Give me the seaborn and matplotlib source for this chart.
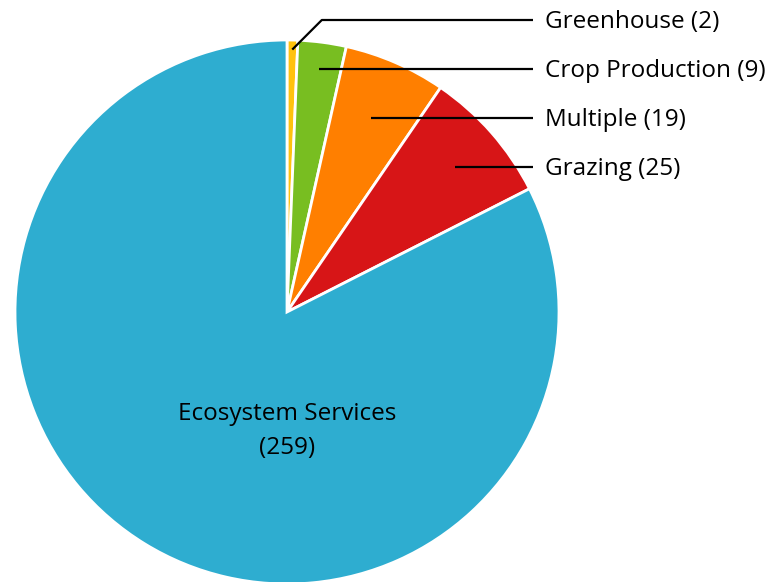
import matplotlib
matplotlib.use("Agg")
import matplotlib.pyplot as plt
import numpy as np
import seaborn as sns

# Land-use categories and counts
categories = ["Greenhouse", "Crop Production", "Multiple", "Grazing", "Ecosystem Services"]
counts = [2, 9, 19, 25, 259]
colors = ["#FFC20E", "#78BE21", "#FF7F00", "#D71517", "#2EADD0"]

sns.set_theme(style="white")
plt.rcParams["font.family"] = ["Open Sans", "DejaVu Sans"]

W, H = 769, 582
fig = plt.figure(figsize=(W / 100, H / 100), dpi=100)
ax = fig.add_axes([0, 0, 1, 1])

cx, cy, R = 287, 270, 272
wedges, _ = ax.pie(
    counts, colors=sns.color_palette(colors), startangle=90, counterclock=False,
    center=(cx, cy), radius=R, frame=True,
    wedgeprops=dict(edgecolor="white", linewidth=2.0),
)
ax.set_xlim(0, W)
ax.set_ylim(0, H)
ax.set_aspect("equal")
ax.axis("off")

# Leader lines for the small slices, labels stacked on the right
label_y = [562, 513, 464, 415]
depth = [0.965, 0.90, 0.77, 0.82]
line_end = 533
text_x = 545
fs = 17.5
for i in range(4):
    w = wedges[i]
    mid = np.deg2rad((w.theta1 + w.theta2) / 2)
    px = cx + depth[i] * R * np.cos(mid)
    py = cy + depth[i] * R * np.sin(mid)
    if i == 0:
        ex = px + (label_y[i] - py)
        ax.plot([px, ex, line_end], [py, label_y[i], label_y[i]], color="black", lw=1.6,
                solid_capstyle="butt")
    else:
        ax.plot([px, line_end], [label_y[i], label_y[i]], color="black", lw=1.6,
                solid_capstyle="butt")
    ax.text(text_x, label_y[i] - 2, f"{categories[i]} ({counts[i]})", fontsize=fs,
            va="center", ha="left", color="black")

# Label for the large slice, inside the pie
ax.text(cx, 168, categories[4], fontsize=fs, ha="center", va="center", color="black")
ax.text(cx, 134, f"({counts[4]})", fontsize=fs, ha="center", va="center", color="black")

fig.savefig("out.png", dpi=100)
